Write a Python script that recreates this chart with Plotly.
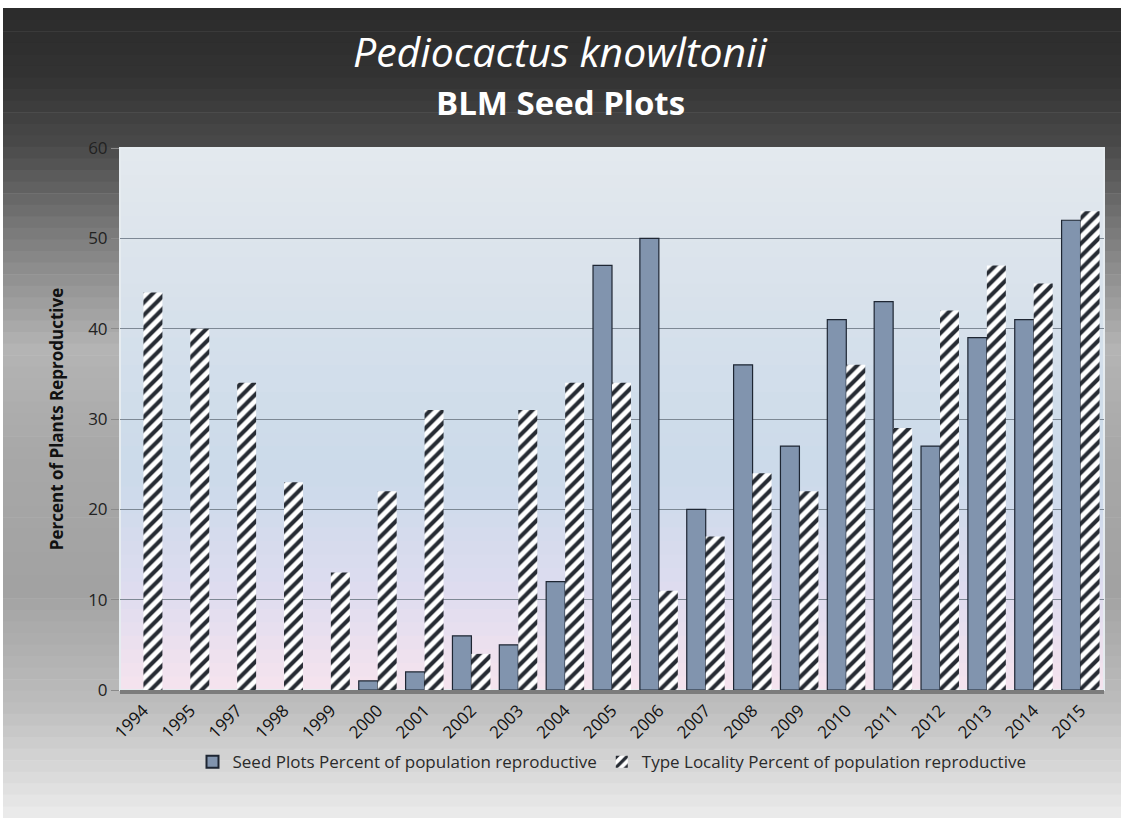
import plotly.graph_objects as go

years = ["1994", "1995", "1997", "1998", "1999", "2000", "2001", "2002", "2003", "2004", "2005",
         "2006", "2007", "2008", "2009", "2010", "2011", "2012", "2013", "2014", "2015"]
seed_plots = [None, None, None, None, None, 1, 2, 6, 5, 12, 47, 50, 20, 36, 27, 41, 43, 27, 39, 41, 52]
type_locality = [44, 40, 34, 23, 13, 22, 31, 4, 31, 34, 34, 11, 17, 24, 22, 36, 29, 42, 47, 45, 53]

title_line1 = "Pediocactus knowltonii"
title_line2 = "BLM Seed Plots"

FONT = "Open Sans"


def hex2rgb(h):
    h = h.lstrip("#")
    return tuple(int(h[i:i + 2], 16) for i in (0, 2, 4))


def interp(stops, t):
    for (t0, c0), (t1, c1) in zip(stops, stops[1:]):
        if t0 <= t <= t1:
            f = 0 if t1 == t0 else (t - t0) / (t1 - t0)
            a, b = hex2rgb(c0), hex2rgb(c1)
            return "rgb(%d,%d,%d)" % tuple(round(a[i] + (b[i] - a[i]) * f) for i in range(3))
    return stops[-1][1]


H, W = 818, 1121
L, R, T, B = 120, 17, 148, 128
pw, ph = W - L - R, H - T - B


def py2paper(py):
    return (H - B - py) / ph


shapes = []
# figure background gradient (top -> bottom)
paper_stops = [(0.0, "#2b2b2b"), (0.08, "#323232"), (0.17, "#4a4a4a"), (0.28, "#7c7c7c"),
               (0.42, "#b4b4b4"), (0.55, "#a8a8a8"), (0.72, "#a2a2a2"), (0.86, "#bdbdbd"),
               (1.0, "#ececec")]
N = 70
for i in range(N):
    py_top = 8 + i * (H - 8) / N
    py_bot = 8 + (i + 1) * (H - 8) / N + 0.6
    t = (i + 0.5) / N
    shapes.append(dict(type="rect", xref="paper", yref="paper",
                       x0=(3 - L) / pw, x1=(W - L) / pw,
                       y0=py2paper(py_bot), y1=py2paper(py_top),
                       fillcolor=interp(paper_stops, t), line=dict(width=0), layer="below"))
# plot area gradient
plot_stops = [(0.0, "#e4e9ee"), (0.3, "#d7e1eb"), (0.6, "#cbdaea"), (0.8, "#dcdcef"), (1.0, "#f6e3ee")]
M = 40
for i in range(M):
    y1 = 1 - i / M
    y0 = 1 - (i + 1) / M - 0.002
    shapes.append(dict(type="rect", xref="x domain", yref="y domain", x0=0, x1=1, y0=max(y0, 0), y1=y1,
                       fillcolor=interp(plot_stops, (i + 0.5) / M), line=dict(width=0), layer="below"))
shapes.append(dict(type="rect", xref="x domain", yref="y domain", x0=0, x1=1, y0=0, y1=1,
                   fillcolor="rgba(0,0,0,0)", line=dict(width=2, color="#e6ecf0"), layer="below"))

fig = go.Figure()
fig.add_trace(go.Bar(
    x=years, y=seed_plots, name="Seed Plots Percent of population reproductive",
    marker=dict(color="#8194ae", line=dict(color="#1e2633", width=1.2)),
))
fig.add_trace(go.Bar(
    x=years, y=type_locality, name="Type Locality Percent of population reproductive",
    marker=dict(color="white", line=dict(color="white", width=0),
                pattern=dict(shape="/", fgcolor="#262b33", bgcolor="white", size=9, solidity=0.45,
                             fgopacity=1)),
))

fig.add_annotation(text="<i>" + title_line1 + "</i>", xref="paper", yref="paper",
                   x=(560 - L) / pw, y=py2paper(51), xanchor="center", yanchor="middle",
                   showarrow=False, borderpad=0, font=dict(family=FONT, size=41, color="white"))
fig.add_annotation(text="<b>" + title_line2 + "</b>", xref="paper", yref="paper",
                   x=(560 - L) / pw, y=py2paper(102), xanchor="center", yanchor="middle",
                   showarrow=False, borderpad=0, font=dict(family=FONT, size=33, color="white"))

fig.update_layout(
    width=W, height=H,
    margin=dict(l=L, r=R, t=T, b=B),
    paper_bgcolor="white",
    plot_bgcolor="rgba(0,0,0,0)",
    barmode="group", bargap=0.19, bargroupgap=0,
    shapes=shapes,
    font=dict(family=FONT),
    showlegend=True,
    legend=dict(orientation="h", x=0.5, xanchor="center", y=-0.1, yanchor="top",
                font=dict(family=FONT, size=17, color="#2a2a2a"), bgcolor="rgba(0,0,0,0)",
                itemsizing="constant"),
    xaxis=dict(
        tickangle=-45, tickfont=dict(family=FONT, size=17, color="#111111"),
        showline=True, linecolor="#7c7c7c", linewidth=4, showgrid=False, ticks="",
    ),
    yaxis=dict(
        range=[0, 60], dtick=10, tickfont=dict(family=FONT, size=17, color="#222222"),
        showgrid=True, gridcolor="#7d8894", gridwidth=1, zeroline=False,
        ticks="outside", ticklen=8, tickcolor="#8a8a8a",
        title=dict(text="<b>Percent of Plants Reproductive</b>",
                   font=dict(family=FONT, size=17, color="#111111"), standoff=20),
    ),
)

fig.write_html("out.html", config={"displayModeBar": False},
               post_script="document.body.style.margin='0px';")
